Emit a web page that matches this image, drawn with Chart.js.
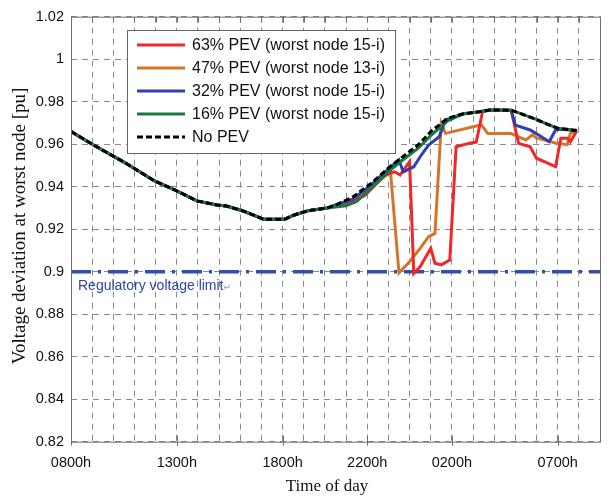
<!DOCTYPE html>
<html>
<head>
<meta charset="utf-8">
<script src="https://cdn.jsdelivr.net/npm/chart.js@4.4.0/dist/chart.umd.min.js"></script>
<style>
  body { margin: 0; background: #fff; }
  canvas { display: block; }
</style>
</head>
<body>
<canvas id="myChart" width="613" height="496"></canvas>
<script>
// hours after 0800h, shared part of all curves (they overlap until ~2030h)
var hoursShared = [0, 1.0, 2.6, 3.95, 4.9, 5.95, 6.9, 7.35, 8.1, 9.1, 10.1, 10.55, 11.2, 12.1];
var voltShared = [0.966, 0.960, 0.951, 0.9427, 0.9385, 0.9333, 0.9314, 0.9309, 0.9287, 0.9247, 0.9247, 0.9267, 0.9287, 0.930];

var hoursNoPev = [12.5, 13.3, 14.2, 15.0, 15.6, 16.4, 17.0, 17.8, 18.5, 19.3, 19.8, 20.8, 21.9, 22.5, 23.0, 23.9];
var voltNoPev = [0.9314, 0.935, 0.9417, 0.9488, 0.9535, 0.9596, 0.9659, 0.9722, 0.9742, 0.9753, 0.9761, 0.976, 0.972, 0.9695, 0.9675, 0.9664];

var hours16 = [12.5, 13.0, 13.5, 14.2, 15.0, 15.6, 16.4, 17.0, 17.8, 18.5, 19.3, 19.8, 20.8, 21.9, 22.5, 23.0, 23.9];
var volt16 = [0.9305, 0.931, 0.933, 0.9395, 0.947, 0.952, 0.958, 0.964, 0.971, 0.9742, 0.9753, 0.9761, 0.976, 0.972, 0.9695, 0.9675, 0.9664];

var hours32 = [12.5, 13.3, 14.2, 14.9, 15.5, 15.7, 16.2, 16.5, 16.9, 17.4, 17.7, 18.5, 19.3, 19.8, 20.8, 21.0, 21.7, 22.1, 22.6, 22.9, 23.1, 23.9];
var volt32 = [0.9314, 0.934, 0.941, 0.9475, 0.9526, 0.947, 0.9494, 0.9541, 0.9596, 0.9635, 0.9714, 0.9742, 0.9753, 0.9761, 0.976, 0.969, 0.9667, 0.9643, 0.9612, 0.9667, 0.967, 0.9665];

var hours47 = [12.5, 13.3, 14.2, 15.1, 15.5, 16.0, 16.5, 16.9, 17.2, 17.5, 17.7, 19.15, 19.4, 19.7, 20.8, 21.15, 21.5, 21.8, 22.0, 22.85, 23.45, 23.6, 23.9];
var volt47 = [0.931, 0.934, 0.940, 0.947, 0.8995, 0.9047, 0.911, 0.9165, 0.918, 0.9698, 0.9651, 0.9686, 0.969, 0.965, 0.965, 0.9635, 0.962, 0.9644, 0.963, 0.9607, 0.9598, 0.9651, 0.9662];

var hours63 = [12.5, 13.3, 13.9, 14.85, 15.3, 15.55, 16.0, 16.2, 16.5, 17.0, 17.2, 17.5, 17.9, 18.2, 18.8, 19.15, 19.45, 19.8, 20.8, 21.15, 21.7, 22.0, 22.9, 23.15, 23.45, 23.6, 23.9];
var volt63 = [0.931, 0.933, 0.936, 0.9455, 0.947, 0.9455, 0.9518, 0.8992, 0.9023, 0.911, 0.904, 0.9032, 0.9055, 0.9588, 0.9604, 0.961, 0.9753, 0.9761, 0.976, 0.9604, 0.9588, 0.9534, 0.9494, 0.9628, 0.9628, 0.9612, 0.9662];

var limitHours = [0, 25];
var limitVolt = [0.9, 0.9];

var seriesLabels = ['63% PEV (worst node 15-i)', '47% PEV (worst node 13-i)', '32% PEV (worst node 15-i)', '16% PEV (worst node 15-i)', 'No PEV'];

var xTickLabels = { 0: '0800h', 5: '1300h', 10: '1800h', 14: '2200h', 18: '0200h', 23: '0700h' };
var yTicks = [0.82, 0.84, 0.86, 0.88, 0.9, 0.92, 0.94, 0.96, 0.98, 1, 1.02];

function pts(h, v) {
    var out = [];
    for (var i = 0; i < h.length; i++) out.push({ x: h[i], y: v[i] });
    return out;
}
function withShared(h, v) {
    return pts(hoursShared.concat(h), voltShared.concat(v));
}

var frame = {
    id: 'frame',
    afterDatasetsDraw: function (chart) {
        var ctx = chart.ctx, a = chart.chartArea, xs = chart.scales.x;
        ctx.save();
        ctx.strokeStyle = '#6e6e6e';
        ctx.lineWidth = 1;
        ctx.strokeRect(a.left + 0.5, a.top + 0.5, a.right - a.left, a.bottom - a.top);
        ctx.beginPath();
        for (var h = 1; h <= 25; h++) {
            var px = Math.round(xs.getPixelForValue(h)) + 0.5;
            ctx.moveTo(px, a.top);
            ctx.lineTo(px, a.top + 6);
        }
        for (var k in xTickLabels) {
            var px2 = Math.round(xs.getPixelForValue(+k)) + 0.5;
            ctx.moveTo(px2, a.bottom - 6);
            ctx.lineTo(px2, a.bottom + 4);
        }
        ctx.stroke();
        ctx.restore();
    },
    afterDraw: function (chart) {
        var ctx = chart.ctx, a = chart.chartArea;
        ctx.save();
        // limit label
        ctx.fillStyle = '#2d47a6';
        ctx.font = '14px "Liberation Sans", Arial, sans-serif';
        ctx.textBaseline = 'middle';
        ctx.textAlign = 'left';
        ctx.fillText('Regulatory voltage limit', 78, 286);
        var w = ctx.measureText('Regulatory voltage limit').width;
        ctx.fillStyle = '#8c98c8';
        ctx.font = '9px "DejaVu Sans", sans-serif';
        ctx.fillText('\u21b5', 78 + w, 288);

        // legend
        ctx.fillStyle = '#fff';
        ctx.fillRect(127, 30, 268, 123);
        ctx.strokeStyle = '#666';
        ctx.lineWidth = 1;
        ctx.strokeRect(127.5, 30.5, 268, 123);
        var rows = [45, 68, 91, 114, 137];
        ctx.font = '16px "Liberation Sans", Arial, sans-serif';
        for (var i = 0; i < 5; i++) {
            var ds = chart.data.datasets[i];
            ctx.strokeStyle = ds.borderColor;
            ctx.lineWidth = ds.borderWidth;
            ctx.setLineDash(ds.borderDash || []);
            ctx.beginPath();
            ctx.moveTo(137, rows[i]);
            ctx.lineTo(185, rows[i]);
            ctx.stroke();
            ctx.setLineDash([]);
            ctx.fillStyle = '#111';
            ctx.fillText(ds.label, 192, rows[i] + 1);
        }

        // axis titles
        ctx.fillStyle = '#111';
        ctx.font = '17px "Liberation Serif", "Times New Roman", serif';
        ctx.textAlign = 'center';
        ctx.fillText('Time of day', 327, 487);
        ctx.font = '19px "Liberation Serif", "Times New Roman", serif';
        ctx.translate(20, 226);
        ctx.rotate(-Math.PI / 2);
        ctx.fillText('Voltage deviation at worst node [pu]', 0, 0);
        ctx.restore();
    }
};

var ctx = document.getElementById('myChart').getContext('2d');

var myChart = new Chart(ctx, {
    type: 'line',
    data: {
        datasets: [
            { label: seriesLabels[0], data: withShared(hours63, volt63), borderColor: '#f0282a', borderWidth: 3, order: 4 },
            { label: seriesLabels[1], data: withShared(hours47, volt47), borderColor: '#d2762e', borderWidth: 3, order: 5 },
            { label: seriesLabels[2], data: withShared(hours32, volt32), borderColor: '#2e3fae', borderWidth: 3, order: 3 },
            { label: seriesLabels[3], data: withShared(hours16, volt16), borderColor: '#177a3e', borderWidth: 3, order: 2 },
            { label: seriesLabels[4], data: withShared(hoursNoPev, voltNoPev), borderColor: '#000', borderWidth: 3, borderDash: [6, 3], order: 1 },
            { label: 'limit', data: pts(limitHours, limitVolt), borderColor: '#3050b0', borderWidth: 3.5, borderDash: [20, 7, 3, 7], order: 6 }
        ]
    },
    options: {
        responsive: false,
        animation: false,
        events: [],
        layout: { padding: { top: 16.7, right: 0, left: 0, bottom: 0 } },
        elements: {
            point: { radius: 0 },
            line: { tension: 0, fill: false, borderCapStyle: 'butt' }
        },
        plugins: {
            legend: { display: false },
            tooltip: { enabled: false }
        },
        scales: {
            x: {
                type: 'linear',
                min: 0,
                max: 25,
                afterFit: function (s) { s.height = 54.3; },
                grid: { color: '#8a8a8a', lineWidth: 1, drawTicks: false },
                border: { display: false, dash: [6, 5] },
                ticks: {
                    stepSize: 1,
                    autoSkip: false,
                    maxRotation: 0,
                    padding: 13,
                    color: '#111',
                    font: { family: '"Liberation Sans", Arial, sans-serif', size: 14.5 },
                    callback: function (v) { return xTickLabels[v] || ''; }
                }
            },
            y: {
                min: 0.82,
                max: 1.02,
                afterFit: function (s) { s.width = 71; },
                afterBuildTicks: function (s) { s.ticks = yTicks.map(function (v) { return { value: v }; }); },
                grid: { color: '#8a8a8a', lineWidth: 1, drawTicks: false },
                border: { display: false, dash: [6, 5] },
                ticks: {
                    padding: 7,
                    color: '#111',
                    font: { family: '"Liberation Sans", Arial, sans-serif', size: 14.5 },
                    callback: function (v) { return String(parseFloat(v.toFixed(2))); }
                }
            }
        }
    },
    plugins: [frame]
});
</script>
</body>
</html>
